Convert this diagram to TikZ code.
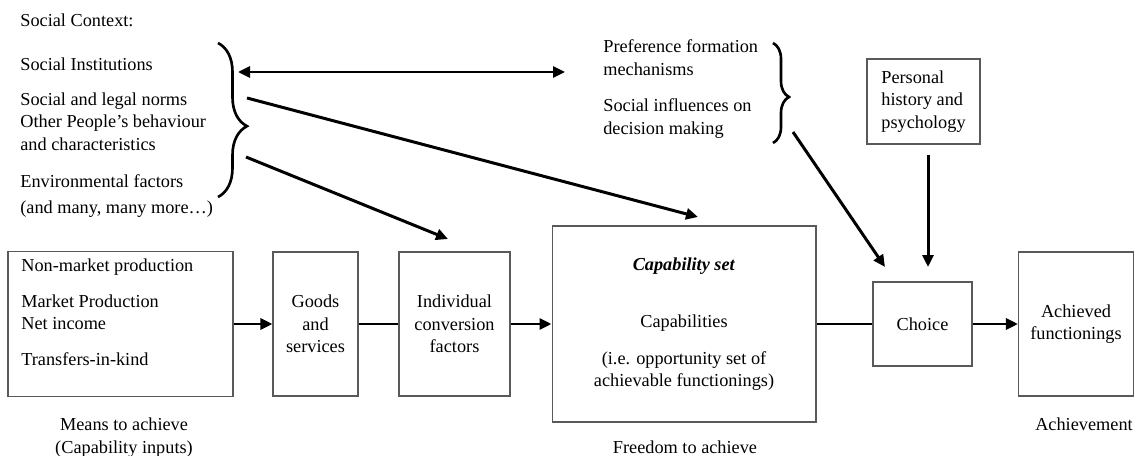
\documentclass[tikz,border=0pt]{standalone}
\usepackage{fontspec}
\setmainfont{Liberation Serif}
\usetikzlibrary{arrows.meta,decorations.pathreplacing}
\tikzset{
  stagebox/.style={draw=black!65,line width=.6pt,align=center,inner sep=3pt},
  sidetext/.style={anchor=base west,inner sep=0pt},
  captext/.style={anchor=base,inner sep=0pt},
  flowarr/.style={-{Triangle[length=2.4mm,width=2.2mm]},line width=1.7pt},
  flowline/.style={line width=1.7pt},
  bothways/.style={{Triangle[length=2.4mm,width=2.2mm]}-{Triangle[length=2.4mm,width=2.2mm]},line width=1.6pt},
  bracket/.style={decorate,decoration={brace,amplitude=#1,aspect=0.54},line width=1.5pt}
}

\begin{document}
\begin{tikzpicture}[x=0.02cm,y=-0.02cm,font=\fontsize{10.4}{12.8}\selectfont]
  \useasboundingbox (0,0) rectangle (1136,456);

  % social context column
  \node[sidetext] (ctxhead) at (20,27) {Social Context:};
  \foreach \n/\y/\txt in {inst/71/Social Institutions,norms/106/Social and legal norms,others/128/Other People’s behaviour,traits/151/and characteristics,env/187/Environmental factors,more/214/{(and many, many more…)}}
    \node[sidetext] (\n) at (20,\y) {\txt};
  \draw[bracket=0.58cm] (218,43) -- (218,197);

  % preferences
  \foreach \n/\y/\txt in {pref/53/Preference formation,mech/76/mechanisms,infl/112/Social influences on,decide/134/decision making}
    \node[sidetext] (\n) at (603,\y) {\txt};
  \draw[bracket=0.32cm] (773,43) -- (773,143);

  \node[stagebox,align=left,minimum width=2.26cm,minimum height=1.7cm] (personal) at (923.5,101.5) {Personal\\history and\\psychology};

  % main chain
  \node[stagebox,minimum width=4.5cm,minimum height=2.9cm] (means) at (120.5,324) {};
  \foreach \n/\y/\txt in {nonmkt/271/Non-market production,mkt/307/Market Production,income/329/Net income,transfers/365/Transfers-in-kind}
    \node[sidetext] (\n) at (21,\y) {\txt};
  \node[stagebox,minimum width=1.7cm,minimum height=2.88cm] (goods) at (315.5,324) {Goods\\and\\services};
  \node[stagebox,minimum width=2.22cm,minimum height=2.88cm] (convert) at (454.5,324) {Individual\\conversion\\factors};
  \node[stagebox,minimum width=5.28cm,minimum height=3.92cm] (capset) at (684,324) {\textbf{\textit{Capability set}}\\[20pt]Capabilities\\[8pt](i.e. opportunity set of\\achievable functionings)};
  \node[stagebox,minimum width=1.98cm,minimum height=1.68cm] (choice) at (922.5,324) {Choice};
  \node[stagebox,minimum width=2.3cm,minimum height=2.88cm] (achieved) at (1076,324) {Achieved\\functionings};

  \node[captext] (meanscap) at (124,430) {Means to achieve};
  \node[captext] (inputscap) at (124,453) {(Capability inputs)};
  \node[captext] (freecap) at (685,453) {Freedom to achieve};
  \node[captext] (achcap) at (1084,430) {Achievement};

  \draw[flowarr] (means) -- (goods);
  \draw[flowline] (goods) -- (convert);
  \draw[flowarr] (convert) -- (capset);
  \draw[flowline] (capset) -- (choice);
  \draw[flowarr] (choice) -- (achieved);

  % influences
  \coordinate (pairL) at (238,72);
  \coordinate (pairR) at (565,72);
  \coordinate (normsout) at (247,98);
  \coordinate (capin) at (698,217);
  \coordinate (envout) at (246,157);
  \coordinate (convin) at (448,239);
  \coordinate (prefout) at (793,132);
  \coordinate (choicein) at (885,267);
  \coordinate (histout) at (928,155);
  \coordinate (choicetop) at (928,267);
  \draw[bothways] (pairL) -- (pairR);
  \draw[flowarr] (normsout) -- (capin);
  \draw[flowarr] (envout) -- (convin);
  \draw[flowarr] (prefout) -- (choicein);
  \draw[flowarr] (histout) -- (choicetop);
\end{tikzpicture}
\end{document}
